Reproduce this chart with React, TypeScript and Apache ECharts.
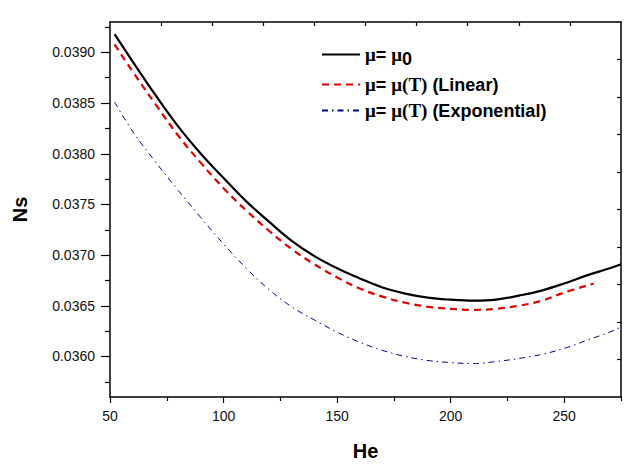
import React, { useEffect, useRef } from "react";
import * as echarts from "echarts";

// He values (x) for the constant-viscosity and exponential curves
const heValues = [52, 60, 70, 80, 90, 100, 110, 120, 130, 140, 150, 160, 170, 180, 190, 200, 210, 220, 230, 240, 250, 260, 270, 275];
// Ns for mu = mu0
const nsConstant = [0.03918, 0.03891, 0.03858, 0.03827, 0.038, 0.03776, 0.03753, 0.03733, 0.03714, 0.03699, 0.03687, 0.03677, 0.03668, 0.03662, 0.03658, 0.03656, 0.03655, 0.03656, 0.0366, 0.03665, 0.03672, 0.0368, 0.03687, 0.03691];
// Ns for mu = mu(T) exponential
const nsExponential = [0.03851, 0.03822, 0.03792, 0.03764, 0.03737, 0.03711, 0.03687, 0.03666, 0.03649, 0.03636, 0.03624, 0.03614, 0.03606, 0.036, 0.03596, 0.03594, 0.03593, 0.03595, 0.03598, 0.03602, 0.03608, 0.03616, 0.03624, 0.03629];
// He values (x) for the linear curve (stops earlier)
const heLinear = [52, 60, 70, 80, 90, 100, 110, 120, 130, 140, 150, 160, 170, 180, 190, 200, 210, 220, 230, 240, 250, 263];
const nsLinear = [0.03908, 0.03881, 0.03849, 0.03818, 0.03791, 0.03766, 0.03744, 0.03724, 0.03706, 0.03691, 0.03678, 0.03667, 0.03659, 0.03653, 0.03649, 0.03647, 0.03646, 0.03647, 0.0365, 0.03655, 0.03663, 0.03672];

const seriesNames = ["μ= μ0", "μ= μ(T) (Linear)", "μ= μ(T) (Exponential)"];
const xTickLabels = [50, 100, 150, 200, 250];
const xMinorTicks = [75, 125, 175, 225, 275];
const yTickLabels = [0.036, 0.0365, 0.037, 0.0375, 0.038, 0.0385, 0.039];
const yMinorTicks = [0.03575, 0.03625, 0.03675, 0.03725, 0.03775, 0.03825, 0.03875, 0.03925];

const X_MIN = 50;
const X_MAX = 275;
const Y_MIN = 0.0356;
const Y_MAX = 0.0393;

const pairs = (xs: number[], ys: number[]) => xs.map((x, i) => [x, ys[i]]);

export default function App() {
  const ref = useRef<HTMLDivElement>(null);
  useEffect(() => {
    if (!ref.current) return;
    const chart = echarts.init(ref.current, undefined, { renderer: "svg" });
    const axisLine = { show: true, lineStyle: { color: "#000", width: 1.5 } };
    const font = "Liberation Sans, Arial, sans-serif";
    const tickStyle = { color: "#000", width: 1.2 };
    const topTicks: number[] = [];
    for (let k = 1; k < 10; k++) topTicks.push(X_MIN + (k * (X_MAX - X_MIN)) / 10);
    const rightTicks: number[] = [];
    for (let k = 1; k < 10; k++) rightTicks.push(Y_MIN + (k * (Y_MAX - Y_MIN)) / 10);

    chart.setOption({
      animation: false,
      backgroundColor: "#fff",
      grid: { left: 110, top: 22, right: 12, bottom: 67, containLabel: false },
      legend: {
        orient: "vertical",
        left: 316,
        top: 40,
        itemWidth: 38,
        itemHeight: 6,
        itemGap: 7,
        data: seriesNames,
        itemStyle: { opacity: 0, color: "transparent", borderWidth: 0 },
        formatter: (name: string) => {
          if (name === seriesNames[0]) return "{g|μ}= {g|μ}{s|0}";
          if (name === seriesNames[1]) return "{g|μ}= {g|μ(T)} (Linear)";
          return "{g|μ}= {g|μ(T)} (Exponential)";
        },
        textStyle: {
          fontFamily: font,
          fontWeight: "bold",
          fontSize: 18,
          color: "#000",
          rich: {
            g: { fontFamily: "Liberation Serif, serif", fontWeight: "bold", fontSize: 19, color: "#000" },
            s: { fontFamily: font, fontWeight: "bold", fontSize: 18, color: "#000", padding: [9, 0, 0, 0] },
          },
        },
      },
      xAxis: [
        {
          type: "value",
          position: "bottom",
          min: X_MIN,
          max: X_MAX,
          name: "He",
          nameLocation: "middle",
          nameGap: 44,
          nameTextStyle: { fontFamily: font, fontWeight: "bold", fontSize: 20, color: "#000" },
          axisLine,
          axisTick: { show: true, inside: false, length: 6, customValues: xTickLabels, lineStyle: tickStyle },
          axisLabel: { customValues: xTickLabels, margin: 12, fontFamily: font, fontSize: 14, color: "#111" },
          splitLine: { show: false },
        },
        {
          type: "value",
          position: "bottom",
          min: X_MIN,
          max: X_MAX,
          axisLine: { show: false },
          axisTick: { show: true, inside: false, length: 4, customValues: xMinorTicks, lineStyle: tickStyle },
          axisLabel: { show: false },
          splitLine: { show: false },
        },
        {
          type: "value",
          position: "top",
          min: X_MIN,
          max: X_MAX,
          axisLine,
          axisTick: { show: true, inside: true, length: 4, customValues: topTicks, lineStyle: tickStyle },
          axisLabel: { show: false },
          splitLine: { show: false },
        },
      ],
      yAxis: [
        {
          type: "value",
          position: "left",
          min: Y_MIN,
          max: Y_MAX,
          name: "Ns",
          nameLocation: "middle",
          nameGap: 80,
          nameTextStyle: { fontFamily: font, fontWeight: "bold", fontSize: 20, color: "#000" },
          axisLine,
          axisTick: { show: true, inside: false, length: 9, customValues: yTickLabels, lineStyle: tickStyle },
          axisLabel: {
            customValues: yTickLabels,
            margin: 15,
            fontFamily: font,
            fontSize: 14,
            color: "#111",
            formatter: (v: number) => v.toFixed(4),
          },
          splitLine: { show: false },
        },
        {
          type: "value",
          position: "left",
          min: Y_MIN,
          max: Y_MAX,
          axisLine: { show: false },
          axisTick: { show: true, inside: false, length: 5, customValues: yMinorTicks, lineStyle: tickStyle },
          axisLabel: { show: false },
          splitLine: { show: false },
        },
        {
          type: "value",
          position: "right",
          min: Y_MIN,
          max: Y_MAX,
          axisLine,
          axisTick: { show: true, inside: true, length: 4, customValues: rightTicks, lineStyle: tickStyle },
          axisLabel: { show: false },
          splitLine: { show: false },
        },
      ],
      series: [
        {
          name: seriesNames[0],
          type: "line",
          xAxisIndex: 0,
          yAxisIndex: 0,
          data: pairs(heValues, nsConstant),
          smooth: 0.4,
          symbol: "none",
          lineStyle: { color: "#000", width: 2.2, type: "solid" },
          itemStyle: { color: "#000" },
        },
        {
          name: seriesNames[1],
          type: "line",
          xAxisIndex: 0,
          yAxisIndex: 0,
          data: pairs(heLinear, nsLinear),
          smooth: 0.4,
          symbol: "none",
          lineStyle: { color: "#e00000", width: 2.2, type: [7, 5] },
          itemStyle: { color: "#e00000" },
        },
        {
          name: seriesNames[2],
          type: "line",
          xAxisIndex: 0,
          yAxisIndex: 0,
          data: pairs(heValues, nsExponential),
          smooth: 0.4,
          symbol: "none",
          lineStyle: { color: "#00008b", width: 1, type: [6, 4, 1.5, 4] },
          itemStyle: { color: "#00008b" },
        },
      ],
    });
    return () => chart.dispose();
  }, []);
  return <div ref={ref} style={{ position: "fixed", left: 0, top: 0, width: 633, height: 466 }} />;
}
